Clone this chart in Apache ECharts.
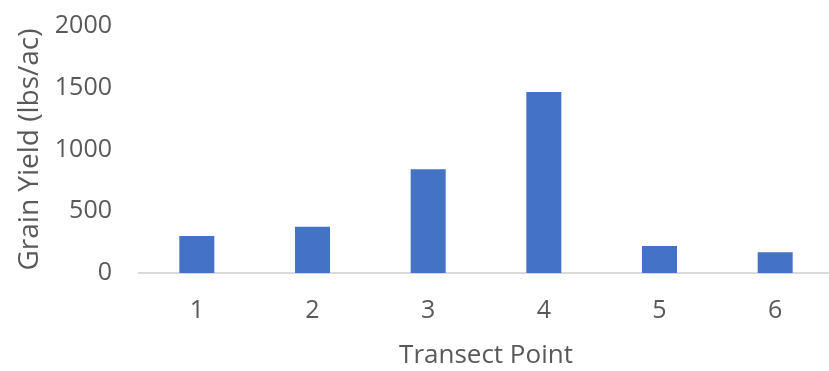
<!DOCTYPE html>
<html>
<head>
<meta charset="utf-8">
<script src="https://cdn.jsdelivr.net/npm/echarts@6/dist/echarts.min.js"></script>
<style>
  html, body { margin: 0; padding: 0; background: #ffffff; }
  #chart { width: 829px; height: 371px; }
</style>
</head>
<body>
<div id="chart"></div>
<script>
// Grain yield at each transect point
const transectPoints = ['1', '2', '3', '4', '5', '6'];
const grainYield = [300, 375, 840, 1466, 219, 168];
const yTicks = { min: 0, max: 2000, interval: 500 };

const textColor = '#595959';
const fontFamily = '"Open Sans", "Noto Sans", sans-serif';

const chart = echarts.init(document.getElementById('chart'), null, { renderer: 'canvas' });
chart.setOption({
  backgroundColor: '#ffffff',
  animation: false,
  grid: {
    left: 139, top: 26, bottom: 98, width: 694,
    containLabel: false,
    outerBoundsMode: 'none'
  },
  xAxis: {
    type: 'category',
    data: transectPoints,
    name: 'Transect Point',
    nameLocation: 'middle',
    nameGap: 70,
    nameTextStyle: { color: textColor, fontSize: 26, fontFamily: fontFamily },
    axisLine: { lineStyle: { color: '#d9d9d9', width: 2 } },
    axisTick: { show: false },
    axisLabel: { color: textColor, fontSize: 25, fontFamily: fontFamily, margin: 25 }
  },
  yAxis: {
    type: 'value',
    min: yTicks.min,
    max: yTicks.max,
    interval: yTicks.interval,
    name: 'Grain Yield (lbs/ac)',
    nameLocation: 'middle',
    nameRotate: 90,
    nameGap: 92,
    nameTextStyle: { color: textColor, fontSize: 28, fontFamily: fontFamily },
    axisLine: { show: false },
    axisTick: { show: false },
    splitLine: { show: false },
    axisLabel: {
      color: textColor, fontSize: 25, fontFamily: fontFamily, margin: 27,
      formatter: (v) => String(v)
    }
  },
  series: [{
    type: 'bar',
    data: grainYield,
    barWidth: 35,
    itemStyle: { color: '#4472c4' }
  }]
});
</script>
</body>
</html>
